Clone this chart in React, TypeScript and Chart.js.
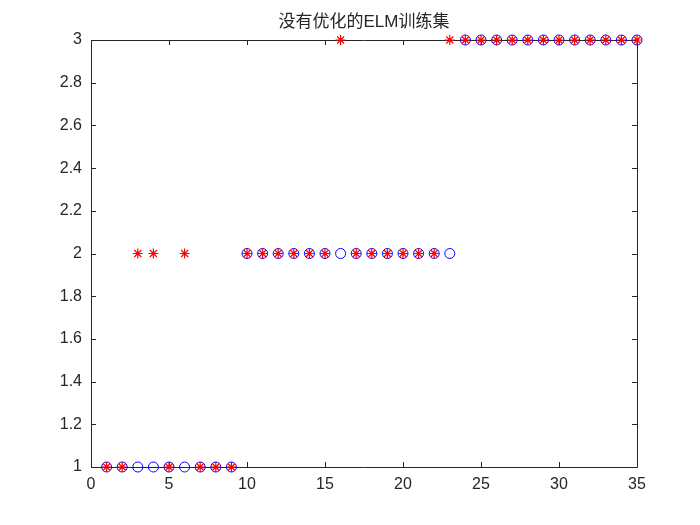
import React, { useEffect, useRef } from "react";
import { Chart, registerables } from "chart.js";

Chart.register(...registerables);

const sampleIndex = [1, 2, 3, 4, 5, 6, 7, 8, 9, 10, 11, 12, 13, 14, 15, 16, 17, 18, 19, 20, 21, 22, 23, 24, 25, 26, 27, 28, 29, 30, 31, 32, 33, 34, 35];
const actualClass = [1, 1, 1, 1, 1, 1, 1, 1, 1, 2, 2, 2, 2, 2, 2, 2, 2, 2, 2, 2, 2, 2, 2, 3, 3, 3, 3, 3, 3, 3, 3, 3, 3, 3, 3];
const predictedClass = [1, 1, 2, 2, 1, 2, 1, 1, 1, 2, 2, 2, 2, 2, 2, 3, 2, 2, 2, 2, 2, 2, 3, 3, 3, 3, 3, 3, 3, 3, 3, 3, 3, 3, 3];
const xTicks = [0, 5, 10, 15, 20, 25, 30, 35];
const yTicks = [1, 1.2, 1.4, 1.6, 1.8, 2, 2.2, 2.4, 2.6, 2.8, 3];
const titleText = "没有优化的ELM训练集";

const AXIS_COLOR = "#262626";
const FONT = "'Liberation Sans', Arial, Helvetica, 'Noto Sans CJK SC', sans-serif";

const boxPlugin = {
  id: "matlabBox",
  beforeDatasetsDraw(chart: any) {
    const { ctx, chartArea, scales } = chart;
    const { left, right, top, bottom } = chartArea;
    ctx.save();
    ctx.strokeStyle = AXIS_COLOR;
    ctx.lineWidth = 1;
    ctx.beginPath();
    ctx.rect(Math.round(left) + 0.5, Math.round(top) + 0.5, Math.round(right - left), Math.round(bottom - top));
    ctx.stroke();
    const tl = 5;
    ctx.beginPath();
    for (const v of xTicks) {
      const px = Math.round(scales.x.getPixelForValue(v)) + 0.5;
      ctx.moveTo(px, bottom);
      ctx.lineTo(px, bottom - tl);
      ctx.moveTo(px, top);
      ctx.lineTo(px, top + tl);
    }
    for (const v of yTicks) {
      const py = Math.round(scales.y.getPixelForValue(v)) + 0.5;
      ctx.moveTo(left, py);
      ctx.lineTo(left + tl, py);
      ctx.moveTo(right, py);
      ctx.lineTo(right - tl, py);
    }
    ctx.stroke();
    ctx.restore();
  },
};

export default function App() {
  const canvasRef = useRef<HTMLCanvasElement | null>(null);

  useEffect(() => {
    if (!canvasRef.current) return;
    const chart = new Chart(canvasRef.current, {
      type: "scatter",
      data: {
        datasets: [
          {
            label: "预测",
            data: sampleIndex.map((x, i) => ({ x, y: predictedClass[i] })),
            pointStyle: "star",
            pointRadius: 5,
            pointBorderWidth: 1.2,
            borderColor: "#ff0000",
            backgroundColor: "#ff0000",
            showLine: false,
            clip: false,
          },
          {
            label: "实际",
            data: sampleIndex.map((x, i) => ({ x, y: actualClass[i] })),
            pointStyle: "circle",
            pointRadius: 5,
            pointBorderWidth: 1,
            borderColor: "#0000ff",
            backgroundColor: "rgba(0,0,0,0)",
            showLine: false,
            clip: false,
          },
        ],
      },
      options: {
        responsive: false,
        animation: false,
        layout: { padding: { left: 0, right: 63, top: 0, bottom: 0 } },
        plugins: {
          legend: { display: false },
          tooltip: { enabled: false },
          title: {
            display: true,
            text: titleText,
            fullSize: false,
            color: AXIS_COLOR,
            font: { family: FONT, size: 17, weight: "normal", lineHeight: 1.2 },
            padding: { top: 12, bottom: 7.6 },
          },
        },
        scales: {
          x: {
            type: "linear",
            min: 0,
            max: 35,
            afterBuildTicks: (scale: any) => {
              scale.ticks = xTicks.map((v) => ({ value: v }));
            },
            afterFit: (scale: any) => {
              scale.height = 58;
            },
            grid: { display: false, drawTicks: false },
            border: { display: false },
            ticks: {
              color: AXIS_COLOR,
              font: { family: FONT, size: 16 },
              padding: 8,
              maxRotation: 0,
            },
          },
          y: {
            type: "linear",
            min: 1,
            max: 3,
            afterBuildTicks: (scale: any) => {
              scale.ticks = yTicks.map((v) => ({ value: v }));
            },
            afterFit: (scale: any) => {
              scale.width = 91;
            },
            grid: { display: false, drawTicks: false },
            border: { display: false },
            ticks: {
              color: AXIS_COLOR,
              font: { family: FONT, size: 16 },
              padding: 9,
              callback: (v: any) => String(Math.round(Number(v) * 10) / 10),
            },
          },
        },
      },
      plugins: [boxPlugin],
    });
    return () => chart.destroy();
  }, []);

  return (
    <div style={{ position: "absolute", left: 0, top: 0, width: 700, height: 525, background: "#ffffff" }}>
      <canvas ref={canvasRef} width={700} height={525} />
    </div>
  );
}
